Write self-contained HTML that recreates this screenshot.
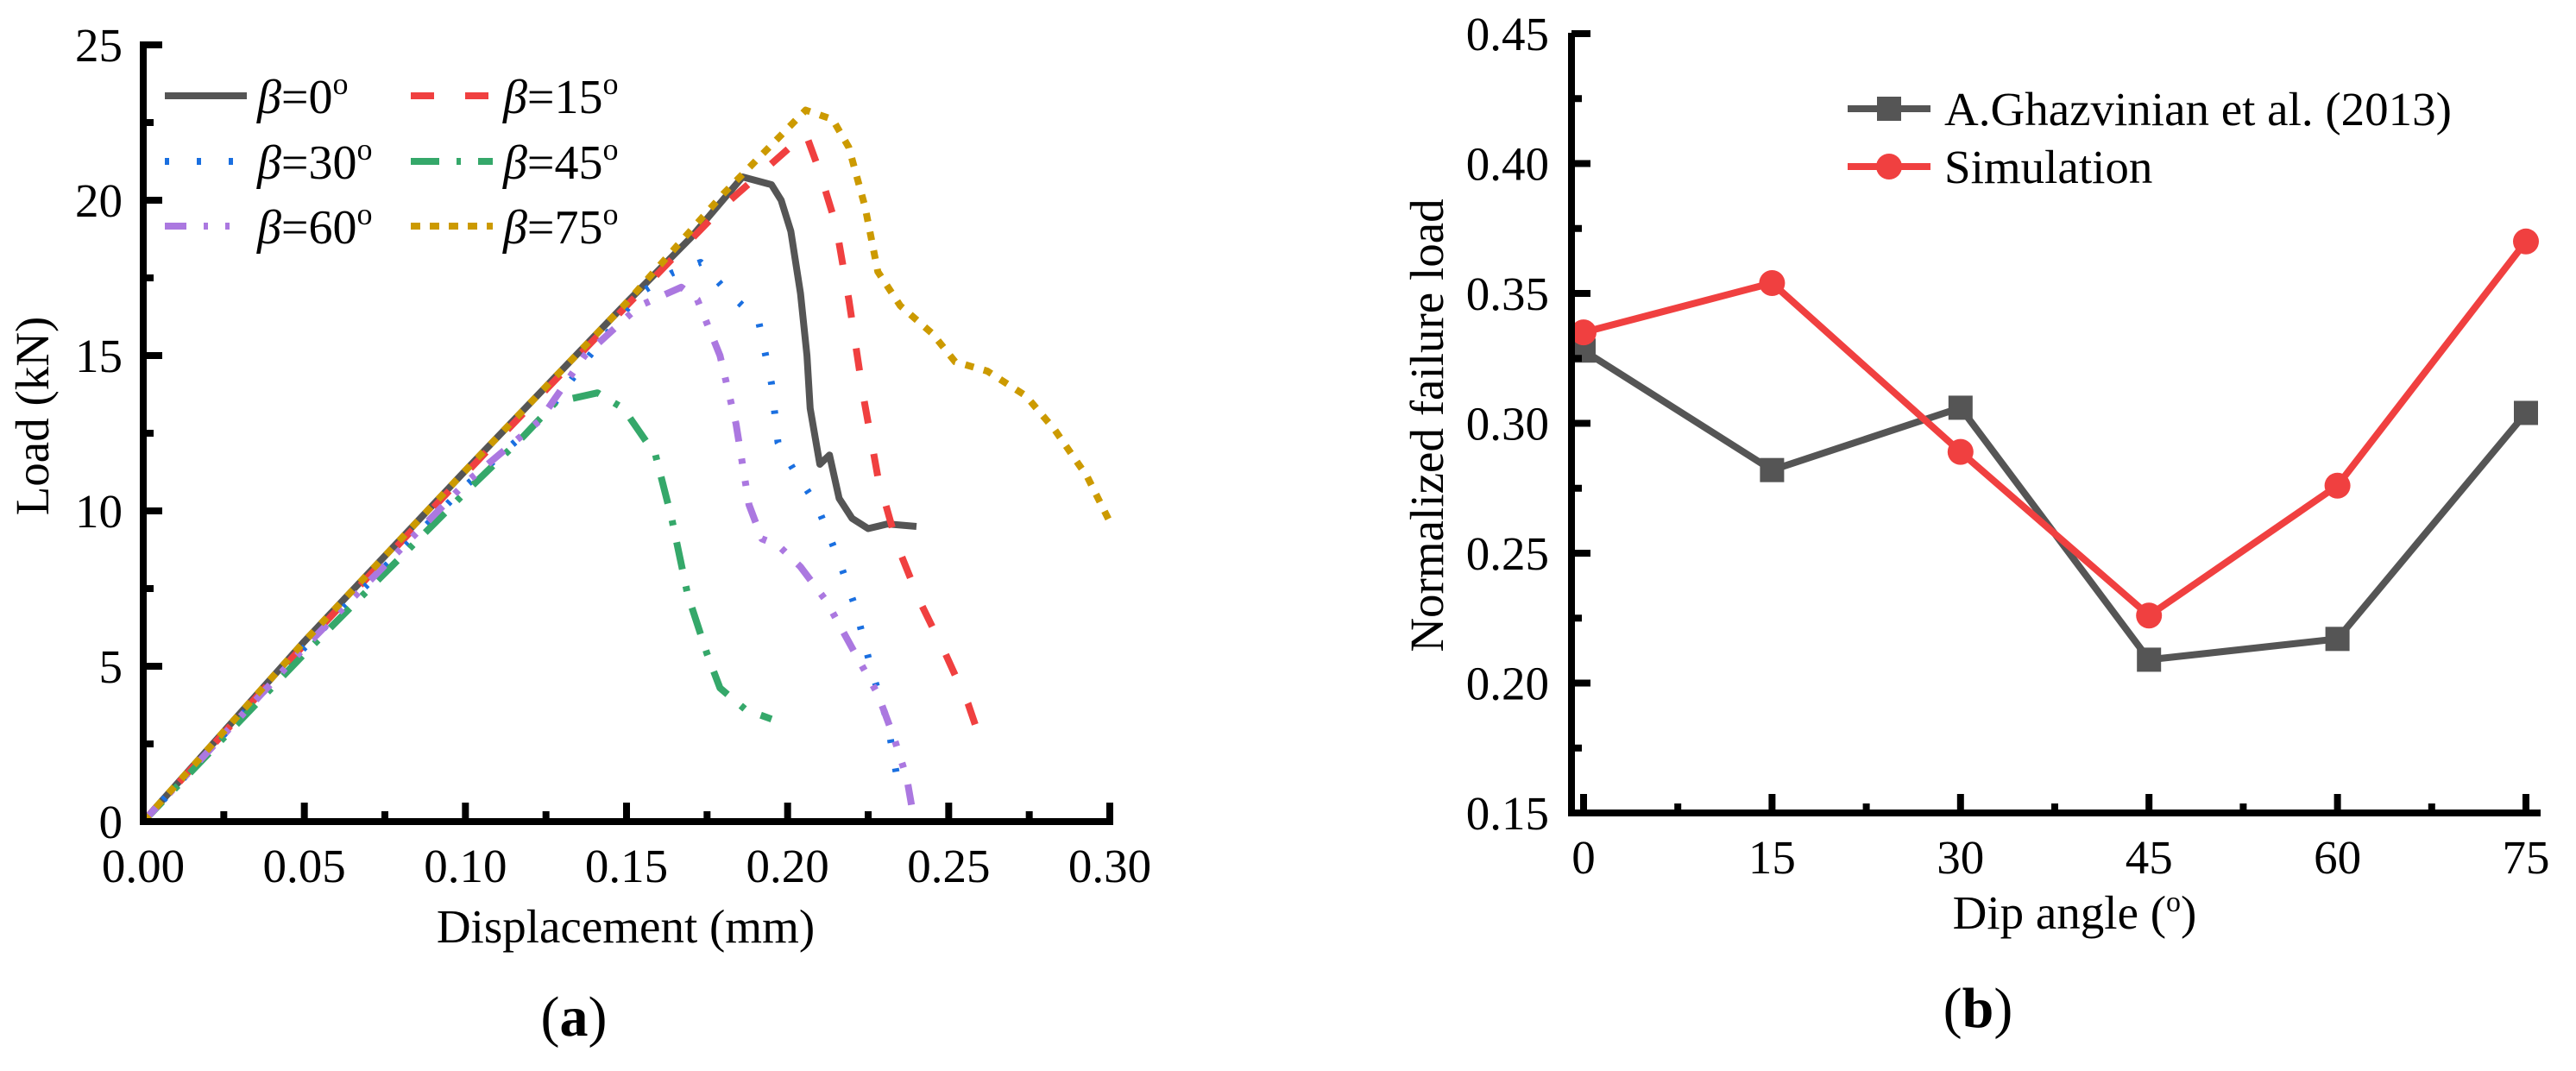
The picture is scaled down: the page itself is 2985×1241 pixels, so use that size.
<!DOCTYPE html>
<html><head><meta charset="utf-8"><style>
html,body{margin:0;padding:0;background:#fff;}
svg, svg text{font-family:"Liberation Serif","Times New Roman",serif !important;}
</style></head><body>
<svg id="fig" width="2985" height="1236" viewBox="0 0 2985 1236" xmlns="http://www.w3.org/2000/svg" font-family="Liberation Serif, serif">
<g id="ga"></g>
<g id="gb"></g>
</svg>
<script>
// ---- Chart (a) data ----
const xTicksA = [0, 0.05, 0.10, 0.15, 0.20, 0.25, 0.30];
const xTickLabelsA = ["0.00","0.05","0.10","0.15","0.20","0.25","0.30"];
const yTicksA = [0, 5, 10, 15, 20, 25];
const yTickLabelsA = ["0","5","10","15","20","25"];
const b0x = [0,0.05,0.10,0.15,0.17,0.186,0.195,0.198,0.201,0.204,0.206,0.207,0.210,0.213,0.216,0.220,0.225,0.231,0.240];
const b0y = [0,5.8,11.3,16.7,18.8,20.75,20.5,20.0,19.0,17.0,15.0,13.3,11.5,11.8,10.4,9.76,9.43,9.58,9.5];
const b15x = [0,0.05,0.10,0.15,0.18,0.2056,0.210,0.215,0.219,0.2235,0.228,0.234,0.241,0.249,0.256,0.2606];
const b15y = [0,5.7,11.2,16.6,19.8,22.15,20.9,19.2,16.8,13.7,11.1,8.9,7.1,5.4,3.8,2.4];
const b30x = [0,0.05,0.10,0.125,0.137,0.154,0.164,0.173,0.180,0.191,0.195,0.197,0.202,0.209,0.216,0.221,0.226,0.231,0.234,0.235];
const b30y = [0,5.6,10.8,13.1,14.8,17.0,17.65,18.0,17.2,16.1,14.1,12.2,11.3,10.2,8.4,6.9,4.9,3.2,1.4,1.0];
const b45x = [0,0.05,0.10,0.118,0.128,0.141,0.149,0.159,0.164,0.169,0.175,0.179,0.187,0.195];
const b45y = [0,5.4,10.6,12.4,13.5,13.8,13.3,11.8,9.76,7.3,5.4,4.3,3.6,3.3];
const b60x = [0,0.05,0.10,0.123,0.137,0.154,0.167,0.172,0.179,0.184,0.188,0.192,0.197,0.204,0.212,0.221,0.228,0.233,0.237,0.239];
const b60y = [0,5.6,10.9,12.9,15.0,16.6,17.2,16.8,15.0,12.8,10.2,9.1,8.9,8.2,7.1,5.4,4.1,2.7,1.4,0.2];
const b75x = [0,0.05,0.10,0.15,0.18,0.2056,0.214,0.219,0.224,0.228,0.235,0.245,0.252,0.262,0.274,0.283,0.293,0.300];
const b75y = [0,5.8,11.3,16.7,20.2,22.9,22.6,21.7,19.8,17.7,16.6,15.7,14.8,14.5,13.7,12.6,11.1,9.65];

// ---- Chart (b) data ----
const anglesB = [0, 15, 30, 45, 60, 75];
const xTickLabelsB = ["0","15","30","45","60","75"];
const yTicksB = [0.15,0.20,0.25,0.30,0.35,0.40,0.45];
const yTickLabelsB = ["0.15","0.20","0.25","0.30","0.35","0.40","0.45"];
const ghazvinian = [0.328, 0.282, 0.306, 0.209, 0.217, 0.304];
const simulation = [0.335, 0.354, 0.289, 0.226, 0.276, 0.370];

const NS = "http://www.w3.org/2000/svg";
const FF = '"Liberation Serif", "Times New Roman", serif';
const FS = 55;
function mk(parent, tag, attrs, text){
  const e = document.createElementNS(NS, tag);
  for (const k in attrs) e.setAttribute(k, attrs[k]);
  if (tag === 'text') e.setAttribute('style', 'font-family:' + FF);
  if (text !== undefined) e.textContent = text;
  parent.appendChild(e);
  return e;
}

// ===== Chart A =====
const ga = document.getElementById('ga');
const ax = v => 166 + v / 0.30 * 1120;
const ay = v => 952 - v / 25 * 900;
const seriesA = [
  {x:b0x, y:b0y, c:'#555555', d:'', n:'series-beta-0'},
  {x:b15x, y:b15y, c:'#f04040', d:'26 36', n:'series-beta-15'},
  {x:b30x, y:b30y, c:'#1a6fe0', d:'4 30', n:'series-beta-30'},
  {x:b45x, y:b45y, c:'#35a86a', d:'32 20 6 20', n:'series-beta-45'},
  {x:b60x, y:b60y, c:'#ab78e0', d:'24 20 6 20 6 20', n:'series-beta-60'},
  {x:b75x, y:b75y, c:'#cc9a00', d:'10 12', n:'series-beta-75'}
];
seriesA.forEach(s => {
  let pts = s.x.map((v,i) => ax(v).toFixed(1) + ',' + ay(s.y[i]).toFixed(1)).join(' ');
  const p = mk(ga, 'polyline', {points: pts, fill:'none', stroke:s.c, 'stroke-width':8, 'stroke-dasharray':s.d, 'stroke-linejoin':'round'});
  
  
});
let e = mk(ga, 'line', {x1:166, y1:48, x2:166, y2:956, stroke:'#000', 'stroke-width':8});


e = mk(ga, 'line', {x1:162, y1:952, x2:1290, y2:952, stroke:'#000', 'stroke-width':8});


for (let i = 0; i < xTicksA.length; i++){
  const v = xTicksA[i];
  mk(ga, 'line', {x1:ax(v), y1:952, x2:ax(v), y2:930, stroke:'#000', 'stroke-width':8});
  if (i < xTicksA.length - 1) mk(ga, 'line', {x1:ax(v+0.025), y1:952, x2:ax(v+0.025), y2:940, stroke:'#000', 'stroke-width':8});
  const t = mk(ga, 'text', {x:ax(v), y:1022, 'font-size':FS, 'text-anchor':'middle'}, xTickLabelsA[i]);
  
  
}
for (let i = 0; i < yTicksA.length; i++){
  const v = yTicksA[i];
  mk(ga, 'line', {x1:166, y1:ay(v), x2:188, y2:ay(v), stroke:'#000', 'stroke-width':8});
  if (i < yTicksA.length - 1) mk(ga, 'line', {x1:166, y1:ay(v+2.5), x2:178, y2:ay(v+2.5), stroke:'#000', 'stroke-width':8});
  const t = mk(ga, 'text', {x:142, y:ay(v)+19, 'font-size':FS, 'text-anchor':'end'}, yTickLabelsA[i]);
  
  
}
e = mk(ga, 'text', {x:725, y:1092, 'font-size':FS, 'text-anchor':'middle'}, 'Displacement (mm)');


e = mk(ga, 'text', {x:56, y:482, 'font-size':FS, 'text-anchor':'middle', transform:'rotate(-90 56 482)'}, 'Load (kN)');


e = mk(ga, 'text', {x:665, y:1200, 'font-size':66, 'text-anchor':'middle'}, '');


e.innerHTML = '(<tspan font-weight="bold">a</tspan>)';
const legA = [
  {c:'#555555', d:'', t:'0', x:191, y:111},
  {c:'#f04040', d:'27 36', t:'15', x:476, y:111},
  {c:'#1a6fe0', d:'5 32', t:'30', x:191, y:187},
  {c:'#35a86a', d:'33 20 5 20', t:'45', x:476, y:187},
  {c:'#ab78e0', d:'25 20 5 20 5 20', t:'60', x:191, y:262},
  {c:'#cc9a00', d:'11 11', t:'75', x:476, y:262}
];
legA.forEach(l => {
  const g = mk(ga, 'g', {});
  
  
  mk(g, 'line', {x1:l.x, y1:l.y, x2:l.x+95, y2:l.y, stroke:l.c, 'stroke-width':8, 'stroke-dasharray':l.d});
  const t = mk(g, 'text', {x:l.x+107, y:l.y+20, 'font-size':56}, '');
  t.innerHTML = '<tspan font-style="italic">β</tspan>=' + l.t + '<tspan font-size="36" dy="-22">o</tspan>';
});

// ===== Chart B =====
const gb = document.getElementById('gb');
const bx = v => 1835 + v / 15 * 218.4;
const by = v => 942 - (v - 0.15) / 0.30 * 903;
e = mk(gb, 'polyline', {points: anglesB.map((a,i)=>bx(a)+','+by(ghazvinian[i])).join(' '), fill:'none', stroke:'#555555', 'stroke-width':8});


e = mk(gb, 'polyline', {points: anglesB.map((a,i)=>bx(a)+','+by(simulation[i])).join(' '), fill:'none', stroke:'#f04040', 'stroke-width':8});


anglesB.forEach((a,i) => {
  const r = mk(gb, 'rect', {x:bx(a)-14, y:by(ghazvinian[i])-14, width:28, height:28, fill:'#555555'});
  
  
});
anglesB.forEach((a,i) => {
  const c = mk(gb, 'circle', {cx:bx(a), cy:by(simulation[i]), r:15, fill:'#f04040'});
  
  
});
e = mk(gb, 'line', {x1:1821, y1:38, x2:1821, y2:946, stroke:'#000', 'stroke-width':8});


e = mk(gb, 'line', {x1:1817, y1:942, x2:2944, y2:942, stroke:'#000', 'stroke-width':8});


for (let i = 0; i < anglesB.length; i++){
  const a = anglesB[i];
  mk(gb, 'line', {x1:bx(a), y1:942, x2:bx(a), y2:920, stroke:'#000', 'stroke-width':8});
  if (i < anglesB.length - 1) mk(gb, 'line', {x1:bx(a+7.5), y1:942, x2:bx(a+7.5), y2:931, stroke:'#000', 'stroke-width':8});
  const t = mk(gb, 'text', {x:bx(a), y:1012, 'font-size':FS, 'text-anchor':'middle'}, xTickLabelsB[i]);
  
  
}
for (let i = 0; i < yTicksB.length; i++){
  const v = yTicksB[i];
  mk(gb, 'line', {x1:1821, y1:by(v), x2:1843, y2:by(v), stroke:'#000', 'stroke-width':8});
  if (i < yTicksB.length - 1) mk(gb, 'line', {x1:1821, y1:by(v+0.025), x2:1833, y2:by(v+0.025), stroke:'#000', 'stroke-width':8});
  const t = mk(gb, 'text', {x:1795, y:by(v)+19, 'font-size':FS, 'text-anchor':'end'}, yTickLabelsB[i]);
  
  
}
e = mk(gb, 'text', {x:2404, y:1076, 'font-size':FS, 'text-anchor':'middle'}, '');


e.innerHTML = 'Dip angle  (<tspan font-size="34" dy="-20">o</tspan><tspan dy="20">)</tspan>';
e = mk(gb, 'text', {x:1672, y:493, 'font-size':FS, 'text-anchor':'middle', transform:'rotate(-90 1672 493)'}, 'Normalized failure load');


e = mk(gb, 'text', {x:2292, y:1190, 'font-size':66, 'text-anchor':'middle'}, '');


e.innerHTML = '(<tspan font-weight="bold">b</tspan>)';
let g = mk(gb, 'g', {});


mk(g, 'line', {x1:2141, y1:126, x2:2237, y2:126, stroke:'#555555', 'stroke-width':8});
mk(g, 'rect', {x:2175, y:112, width:28, height:28, fill:'#555555'});
mk(g, 'text', {x:2253, y:145, 'font-size':FS}, 'A.Ghazvinian et al. (2013)');
g = mk(gb, 'g', {});


mk(g, 'line', {x1:2141, y1:193, x2:2237, y2:193, stroke:'#f04040', 'stroke-width':8});
mk(g, 'circle', {cx:2189, cy:193, r:15, fill:'#f04040'});
mk(g, 'text', {x:2253, y:212, 'font-size':FS}, 'Simulation');
</script>
</body></html>
